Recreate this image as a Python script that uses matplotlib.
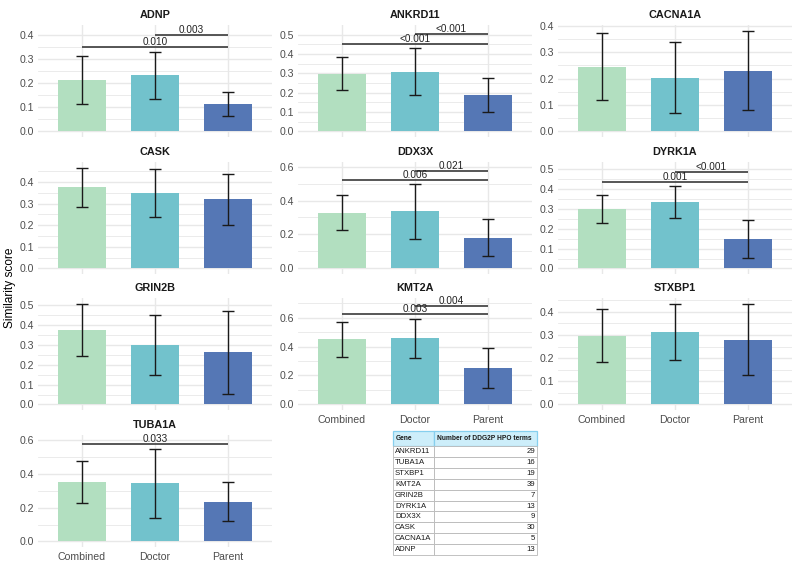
import matplotlib
matplotlib.use('Agg')
import matplotlib.pyplot as plt
from matplotlib.ticker import MultipleLocator

plt.rcParams['font.family'] = ['Liberation Sans', 'DejaVu Sans']

# ---------------- data ----------------
groups = ['Combined', 'Doctor', 'Parent']
genes = ['ADNP', 'ANKRD11', 'CACNA1A', 'CASK', 'DDX3X', 'DYRK1A',
         'GRIN2B', 'KMT2A', 'STXBP1', 'TUBA1A']

means = {
    'ADNP':    [0.213, 0.232, 0.113],
    'ANKRD11': [0.298, 0.308, 0.187],
    'CACNA1A': [0.242, 0.202, 0.229],
    'CASK':    [0.375, 0.349, 0.320],
    'DDX3X':   [0.326, 0.338, 0.182],
    'DYRK1A':  [0.298, 0.336, 0.149],
    'GRIN2B':  [0.375, 0.300, 0.262],
    'KMT2A':   [0.449, 0.458, 0.249],
    'STXBP1':  [0.297, 0.313, 0.280],
    'TUBA1A':  [0.354, 0.346, 0.234],
}
lower = {
    'ADNP':    [0.113, 0.133, 0.065],
    'ANKRD11': [0.212, 0.190, 0.098],
    'CACNA1A': [0.118, 0.068, 0.080],
    'CASK':    [0.286, 0.240, 0.201],
    'DDX3X':   [0.225, 0.176, 0.074],
    'DYRK1A':  [0.227, 0.254, 0.055],
    'GRIN2B':  [0.244, 0.149, 0.054],
    'KMT2A':   [0.328, 0.321, 0.115],
    'STXBP1':  [0.182, 0.191, 0.128],
    'TUBA1A':  [0.230, 0.140, 0.124],
}
upper = {
    'ADNP':    [0.313, 0.330, 0.163],
    'ANKRD11': [0.385, 0.428, 0.278],
    'CACNA1A': [0.371, 0.338, 0.381],
    'CASK':    [0.467, 0.458, 0.436],
    'DDX3X':   [0.430, 0.498, 0.289],
    'DYRK1A':  [0.368, 0.416, 0.242],
    'GRIN2B':  [0.508, 0.450, 0.473],
    'KMT2A':   [0.566, 0.593, 0.390],
    'STXBP1':  [0.412, 0.436, 0.436],
    'TUBA1A':  [0.478, 0.549, 0.352],
}
# significance brackets: (group_a, group_b, y, label)
brackets = {
    'ADNP':    [(0, 2, 0.348, '0.010'), (1, 2, 0.400, '0.003')],
    'ANKRD11': [(0, 2, 0.452, '<0.001'), (1, 2, 0.502, '<0.001')],
    'DDX3X':   [(0, 2, 0.522, '0.006'), (1, 2, 0.572, '0.021')],
    'DYRK1A':  [(0, 2, 0.437, '0.001'), (1, 2, 0.487, '<0.001')],
    'KMT2A':   [(0, 2, 0.627, '0.003'), (1, 2, 0.678, '0.004')],
    'TUBA1A':  [(0, 2, 0.578, '0.033')],
}
table_genes = ['ANKRD11', 'TUBA1A', 'STXBP1', 'KMT2A', 'GRIN2B',
               'DYRK1A', 'DDX3X', 'CASK', 'CACNA1A', 'ADNP']
table_terms = [29, 16, 19, 39, 7, 13, 9, 30, 5, 13]
table_header = ['Gene', 'Number of DDG2P HPO terms']

# ---------------- layout / style ----------------
W, H = 796, 562
colors = ['#b2dfc0', '#72c2cc', '#5577b5']
y_top = {'ADNP': 0.420, 'ANKRD11': 0.523, 'CACNA1A': 0.383, 'CASK': 0.469,
         'DDX3X': 0.597, 'DYRK1A': 0.511, 'GRIN2B': 0.511, 'KMT2A': 0.700,
         'STXBP1': 0.438, 'TUBA1A': 0.601}
y_step = {'ADNP': 0.1, 'ANKRD11': 0.1, 'CACNA1A': 0.1, 'CASK': 0.1,
          'DDX3X': 0.2, 'DYRK1A': 0.1, 'GRIN2B': 0.1, 'KMT2A': 0.2,
          'STXBP1': 0.1, 'TUBA1A': 0.2}
col_left = [38, 298, 558]
panel_w = 234
row_top = [25, 162, 298, 435]
panel_h = 111.5
grid_col = '#e8e8e8'

fig = plt.figure(figsize=(W / 100, H / 100), dpi=100)
fig.patch.set_facecolor('white')


def px_axes(l, t, w, h):
    return fig.add_axes([l / W, 1 - (t + h) / H, w / W, h / H])


for k, g in enumerate(genes):
    r, c = divmod(k, 3)
    ax = px_axes(col_left[c], row_top[r], panel_w, panel_h)
    x = list(range(len(groups)))
    m = means[g]
    lo = [mi - li for mi, li in zip(m, lower[g])]
    hi = [ui - mi for mi, ui in zip(m, upper[g])]
    ax.bar(x, m, width=0.65, color=colors, zorder=2)
    ax.errorbar(x, m, yerr=[lo, hi], fmt='none', ecolor='#1a1a1a',
                elinewidth=1.0, capsize=4.3, capthick=1.0, zorder=3)
    for (a, b, yy, lab) in brackets.get(g, []):
        ax.plot([a, b], [yy, yy], color='#3a3a3a', lw=1.2, zorder=4,
                solid_capstyle='butt')
        ax.text((a + b) / 2, yy, lab, ha='center', va='bottom',
                fontsize=7.2, color='#222222', zorder=5)
    D = y_top[g]
    ax.set_ylim(-0.05 * D, 1.05 * D)
    ax.set_xlim(-0.6, 2.6)
    st = y_step[g]
    ax.yaxis.set_major_locator(MultipleLocator(st))
    ax.yaxis.set_minor_locator(MultipleLocator(st / 2))
    ax.yaxis.set_major_formatter(matplotlib.ticker.FormatStrFormatter('%.1f'))
    ax.set_xticks(x)
    show_x = (g == 'TUBA1A') or (g in ('KMT2A', 'STXBP1'))
    ax.set_xticklabels(groups if show_x else [''] * 3)
    ax.grid(True, which='major', color=grid_col, lw=1.0, zorder=0)
    ax.grid(True, which='minor', axis='y', color=grid_col, lw=0.6, zorder=0)
    ax.set_axisbelow(True)
    for s in ax.spines.values():
        s.set_visible(False)
    ax.tick_params(which='both', length=0, labelsize=7.6,
                   labelcolor='#4d4d4d', pad=3)
    ax.tick_params(axis='x', pad=4)
    ax.set_title(g, fontsize=7.8, fontweight='bold', pad=5, color='#1a1a1a')

fig.text(10 / W, 1 - 288 / H, 'Similarity score', rotation=90,
         ha='center', va='center', fontsize=8.6, color='black')

# ---------------- table ----------------
tax = px_axes(393, 431, 144, 124)
tax.axis('off')
cell_text = [[gname, str(n)] for gname, n in zip(table_genes, table_terms)]
tbl = tax.table(cellText=cell_text, colLabels=table_header,
                colWidths=[41 / 144, 103 / 144], cellLoc='left',
                colLoc='left', bbox=[0, 0, 1, 1])
tbl.auto_set_font_size(False)
tbl.set_fontsize(5.6)
for (ri, ci), cell in tbl.get_celld().items():
    if ri == 0:
        cell.set_facecolor('#cdeefa')
        cell.set_edgecolor('#86cfee')
        cell.set_linewidth(0.9)
        cell.set_height(cell.get_height() * 1.4)
        cell.get_text().set_fontweight('bold')
        cell.get_text().set_fontsize(4.8)
        cell.PAD = 0.03 if ci == 1 else 0.06
    else:
        cell.set_facecolor('white')
        cell.set_edgecolor('#b8b8b8')
        cell.set_linewidth(0.6)
        if ci == 1:
            cell._loc = 'right'
            cell.get_text().set_ha('right')
            cell.PAD = 0.02
        else:
            cell.PAD = 0.05
    cell.get_text().set_color('#1a1a1a')

fig.savefig('out.png', dpi=100, facecolor='white')
